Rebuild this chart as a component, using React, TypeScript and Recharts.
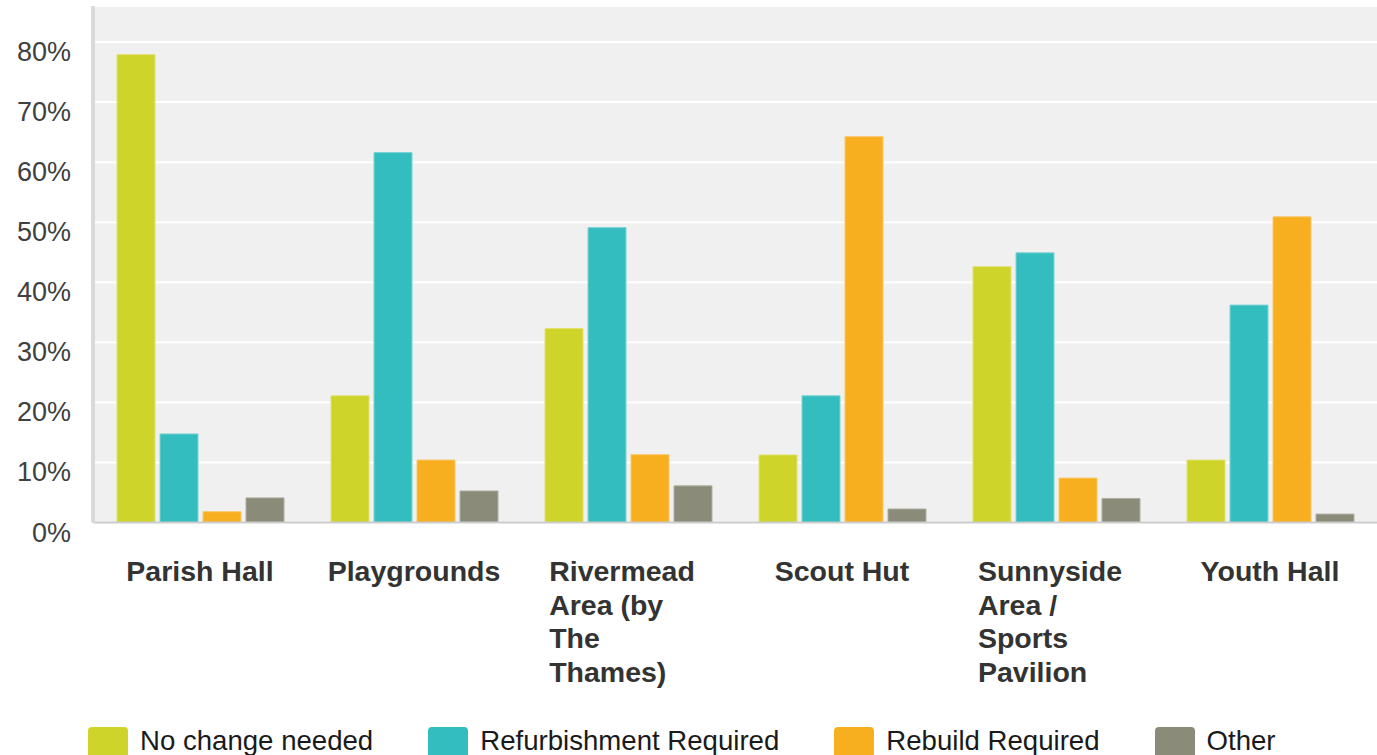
import React from "react";
import { BarChart, Bar, XAxis, YAxis, CartesianGrid, Legend } from "recharts";

const categories = [
  "Parish Hall",
  "Playgrounds",
  "Rivermead Area (by The Thames)",
  "Scout Hut",
  "Sunnyside Area / Sports Pavilion",
  "Youth Hall",
];

// wrapped label lines as they appear under each group
const categoryLines = [
  ["Parish Hall"],
  ["Playgrounds"],
  ["Rivermead", "Area (by", "The", "Thames)"],
  ["Scout Hut"],
  ["Sunnyside", "Area /", "Sports", "Pavilion"],
  ["Youth Hall"],
];

const noChange = [77.9, 21.1, 32.3, 11.25, 42.6, 10.4];
const refurbishment = [14.75, 61.6, 49.1, 21.1, 44.9, 36.2];
const rebuild = [1.8, 10.4, 11.3, 64.25, 7.4, 50.9];
const other = [4.1, 5.25, 6.1, 2.25, 4.0, 1.4];

const yTicks = [0, 10, 20, 30, 40, 50, 60, 70, 80];

const seriesNames = ["No change needed", "Refurbishment Required", "Rebuild Required", "Other"];
const seriesKeys = ["noChange", "refurbishment", "rebuild", "other"];
const seriesColors = ["#cfd42a", "#33bdbf", "#f7ae1f", "#8a8b79"];
const seriesStrokes = ["#dfe270", "#7fd3d4", "#f9c86a", "#aeaea0"];

const data = categories.map((name, i) => ({
  name,
  noChange: noChange[i],
  refurbishment: refurbishment[i],
  rebuild: rebuild[i],
  other: other[i],
}));

const FONT = '"Liberation Sans", Arial, sans-serif';
const LABEL_FONT_SIZE = 28.5;

let ctx: CanvasRenderingContext2D | null = null;
const measure = (s: string) => {
  if (!ctx) {
    ctx = document.createElement("canvas").getContext("2d");
  }
  if (!ctx) return s.length * 15;
  ctx.font = `bold ${LABEL_FONT_SIZE}px ${FONT}`;
  return ctx.measureText(s).width;
};

const XTick = ({ x, y, payload }: any) => {
  const lines = categoryLines[payload.index] || [payload.value];
  const w = Math.max(...lines.map(measure));
  // multi-line labels sit a little left of centre in the original
  const left = x - w / 2 - (lines.length > 1 ? 6 : 0);
  return (
    <text
      fontFamily={FONT}
      fontSize={LABEL_FONT_SIZE}
      fontWeight="bold"
      fill="#333"
      textAnchor="start"
    >
      {lines.map((l: string, i: number) => (
        <tspan key={i} x={left} y={y + 58.5 + i * 33.5}>
          {l}
        </tspan>
      ))}
    </text>
  );
};

const YTick = ({ x, y, payload }: any) => (
  <text x={x - 22} y={y + 19} textAnchor="end" fontFamily={FONT} fontSize={27} fill="#404040">
    {payload.value}%
  </text>
);

const renderLegend = () => (
  <div
    style={{
      height: 33,
      display: "flex",
      paddingLeft: 88,
      fontFamily: FONT,
      fontSize: 27.6,
      color: "#1a1a1a",
    }}
  >
    {seriesNames.map((n, i) => (
      <div key={n} style={{ display: "flex", alignItems: "flex-start", marginRight: 55 }}>
        <div
          style={{
            width: 40,
            height: 40,
            marginTop: 5,
            borderRadius: 4,
            background: seriesColors[i],
          }}
        />
        <span style={{ marginLeft: 12, marginTop: 2, lineHeight: "33px", whiteSpace: "nowrap" }}>{n}</span>
      </div>
    ))}
  </div>
);

export default function App() {
  return (
    <div
      style={{
        position: "absolute",
        top: 0,
        left: 0,
        width: 1377,
        height: 755,
        overflow: "hidden",
        background: "#fff",
      }}
    >
      <BarChart
        width={1377}
        height={755}
        data={data}
        margin={{ top: 6, right: 0, left: 0, bottom: 0 }}
        barSize={38}
        barGap={5}
      >
        <CartesianGrid vertical={false} fill="#f0f0f0" stroke="#ffffff" strokeWidth={2} />
        <XAxis
          dataKey="name"
          interval={0}
          height={199.5}
          tickSize={0}
          tickMargin={0}
          tickLine={false}
          axisLine={{ stroke: "#cccccc", strokeWidth: 2 }}
          tick={<XTick />}
        />
        <YAxis
          width={93}
          domain={[0, 86]}
          ticks={yTicks}
          tickSize={0}
          tickMargin={0}
          tickLine={false}
          axisLine={{ stroke: "#dadada", strokeWidth: 4 }}
          tick={<YTick />}
        />
        <Legend verticalAlign="bottom" align="left" content={renderLegend} />
        {seriesKeys.map((k, i) => (
          <Bar
            key={k}
            dataKey={k}
            name={seriesNames[i]}
            fill={seriesColors[i]}
            stroke={seriesStrokes[i]}
            strokeWidth={1}
            isAnimationActive={false}
          />
        ))}
      </BarChart>
    </div>
  );
}
